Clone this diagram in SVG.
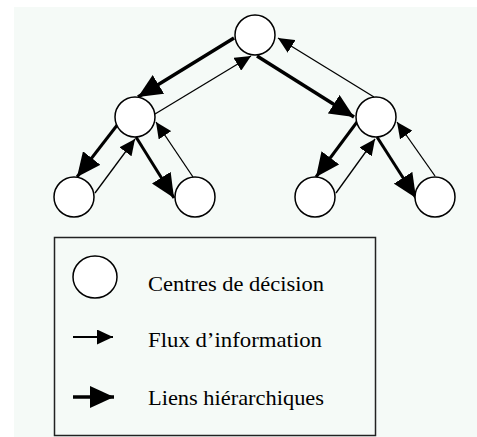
<svg xmlns="http://www.w3.org/2000/svg" width="477" height="437" viewBox="0 0 477 437">
<style>
.node{fill:#ffffff;stroke:#000;stroke-width:1.5}
.info{stroke:#000;stroke-width:1.3;fill:none}
.hier{stroke:#000;stroke-width:3;fill:none}
.lbl{font-family:"Liberation Serif","Times New Roman",serif;font-size:21px;fill:#000}
</style>
<defs>
<marker id="thin" viewBox="0 0 16 15" refX="16" refY="7.5" markerWidth="16" markerHeight="15" markerUnits="userSpaceOnUse" orient="auto">
<path d="M0,0 L16,7.5 L0,15 z" fill="#000"/>
</marker>
<marker id="thick" viewBox="0 0 24 22" refX="24" refY="11" markerWidth="24" markerHeight="22" markerUnits="userSpaceOnUse" orient="auto">
<path d="M0,0 L24,11 L0,22 z" fill="#000"/>
</marker>
</defs>
<rect x="0" y="0" width="477" height="437" fill="#ffffff"/>
<rect x="14" y="7" width="463" height="430" fill="#f5faf7"/>
<g id="connectors">
<line class="hier" style="stroke-width:3.5" x1="234" y1="38" x2="138" y2="97" marker-end="url(#thick)"/>
<line class="info" x1="155" y1="114" x2="251" y2="56" marker-end="url(#thin)"/>
<line class="hier" style="stroke-width:3.5" x1="257" y1="56" x2="354" y2="117" marker-end="url(#thick)"/>
<line class="info" x1="374" y1="97" x2="278" y2="38" marker-end="url(#thin)"/>
<line class="hier" x1="118" y1="124" x2="77" y2="177" marker-end="url(#thick)"/>
<line class="info" x1="95" y1="193" x2="135" y2="139" marker-end="url(#thin)"/>
<line class="hier" x1="136" y1="137" x2="174" y2="198" marker-end="url(#thick)"/>
<line class="info" x1="193" y1="177" x2="156" y2="122" marker-end="url(#thin)"/>
<line class="hier" x1="357" y1="122" x2="316" y2="177" marker-end="url(#thick)"/>
<line class="info" x1="336" y1="193" x2="375" y2="139" marker-end="url(#thin)"/>
<line class="hier" x1="377" y1="137" x2="416" y2="198" marker-end="url(#thick)"/>
<line class="info" x1="435" y1="176" x2="397" y2="122" marker-end="url(#thin)"/>
</g>
<g id="n-top"><circle class="node" cx="255" cy="35" r="20"/></g>
<g id="n-midleft"><circle class="node" cx="135" cy="117" r="20"/></g>
<g id="n-midright"><circle class="node" cx="376" cy="117" r="20"/></g>
<g id="n-bl1"><circle class="node" cx="74" cy="197" r="20"/></g>
<g id="n-bl2"><circle class="node" cx="195" cy="197" r="20"/></g>
<g id="n-br1"><circle class="node" cx="315" cy="197" r="20"/></g>
<g id="n-br2"><circle class="node" cx="435" cy="197" r="20"/></g>
<g id="legend">
<rect x="54.5" y="237.5" width="321" height="198" fill="none" stroke="#222" stroke-width="1.5"/>
<ellipse class="node" cx="95" cy="277" rx="22" ry="21"/>
<text class="lbl" x="148" y="291" textLength="176" lengthAdjust="spacingAndGlyphs">Centres de décision</text>
<line x1="73" y1="337" x2="113" y2="337" stroke="#000" stroke-width="2" marker-end="url(#thin)"/>
<text class="lbl" x="148" y="347" textLength="174" lengthAdjust="spacingAndGlyphs">Flux d’information</text>
<line x1="73" y1="397" x2="114" y2="397" stroke="#000" stroke-width="3.5" marker-end="url(#thick)"/>
<text class="lbl" x="148" y="405" textLength="176" lengthAdjust="spacingAndGlyphs">Liens hiérarchiques</text>
</g>
</svg>
